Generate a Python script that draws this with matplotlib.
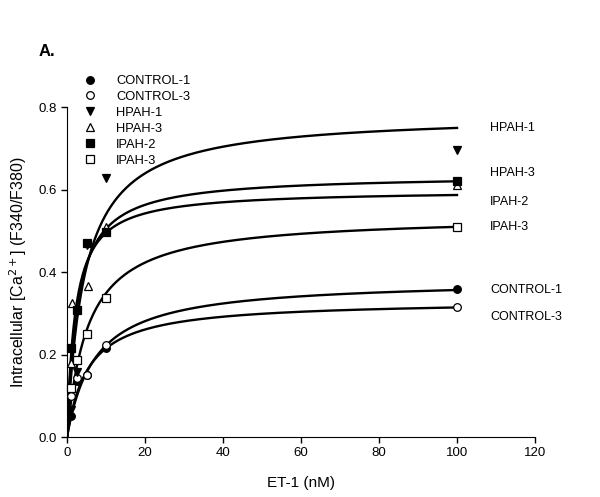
import numpy as np
import matplotlib
matplotlib.use("Agg")
import matplotlib.pyplot as plt

plt.rcParams['font.family'] = ['Liberation Sans', 'DejaVu Sans']

# series names, markers
names = ['CONTROL-1', 'CONTROL-3', 'HPAH-1', 'HPAH-3', 'IPAH-2', 'IPAH-3']
markers = ['o', 'o', 'v', '^', 's', 's']
filled = [True, False, True, False, True, False]

# measured points (ET-1 nM, ratio)
x_ctrl1 = [1, 2.5, 5, 10, 100]
y_ctrl1 = [0.05, 0.135, 0.15, 0.216, 0.358]
x_ctrl3 = [1, 2.5, 5, 10, 100]
y_ctrl3 = [0.10, 0.143, 0.150, 0.223, 0.316]
x_hpah1 = [1, 2.5, 5, 10, 100]
y_hpah1 = [0.065, 0.158, 0.465, 0.628, 0.696]
x_hpah3 = [1, 1.2, 5.5, 10, 100]
y_hpah3 = [0.18, 0.325, 0.366, 0.51, 0.612]
x_ipah2 = [1, 2.5, 5, 10, 100]
y_ipah2 = [0.216, 0.308, 0.47, 0.497, 0.62]
x_ipah3 = [1, 2.5, 5, 10, 100]
y_ipah3 = [0.12, 0.187, 0.25, 0.338, 0.51]

xs = [x_ctrl1, x_ctrl3, x_hpah1, x_hpah3, x_ipah2, x_ipah3]
ys = [y_ctrl1, y_ctrl3, y_hpah1, y_hpah3, y_ipah2, y_ipah3]

# fitted one-site binding curves: Bmax, Kd
bmax = [0.382, 0.331, 0.783, 0.636, 0.599, 0.537]
kd = [7.2, 5.4, 4.5, 2.6, 2.1, 5.4]

# curve end labels (y in data units)
label_y = [0.356, 0.291, 0.749, 0.641, 0.570, 0.509]

fig = plt.figure(figsize=(6.0, 4.97), dpi=100)
ax = fig.add_axes([0.1117, 0.1207, 0.78, 0.664])

xc = np.linspace(0, 100, 400)
for b, k in zip(bmax, kd):
    ax.plot(xc, b * xc / (k + xc), color='black', lw=1.7, zorder=2)

handles = []
for n, m, f, x, y in zip(names, markers, filled, xs, ys):
    h, = ax.plot(x, y, linestyle='none', marker=m, ms=5.5,
                 markerfacecolor='black' if f else 'white',
                 markeredgecolor='black', markeredgewidth=0.9,
                 label=n, zorder=3, clip_on=False)
    handles.append(h)

for n, ly in zip(names, label_y):
    ax.text(108.5, ly, n, fontsize=9, va='center', ha='left')

ax.set_xlim(0, 120)
ax.set_ylim(0, 0.8)
ax.set_xticks([0, 20, 40, 60, 80, 100, 120])
ax.set_yticks([0.0, 0.2, 0.4, 0.6, 0.8])
ax.set_yticklabels(['0.0', '0.2', '0.4', '0.6', '0.8'])
ax.spines['top'].set_visible(False)
ax.spines['right'].set_visible(False)
ax.tick_params(direction='out', length=4, width=1, labelsize=9.5)
ax.set_xlabel('ET-1 (nM)', fontsize=11, labelpad=12)
ax.set_ylabel('Intracellular [Ca$^{2+}$] (F340/F380)', fontsize=11.5, labelpad=7)

leg = fig.legend(handles=handles, loc='upper left', bbox_to_anchor=(0.131, 0.862),
                 frameon=False, fontsize=9.3, handletextpad=1.6,
                 labelspacing=0.3, borderpad=0, handlelength=0.8)

fig.text(0.065, 0.888, 'A.', fontsize=12, fontweight='bold')

fig.savefig('out.png', dpi=100)
